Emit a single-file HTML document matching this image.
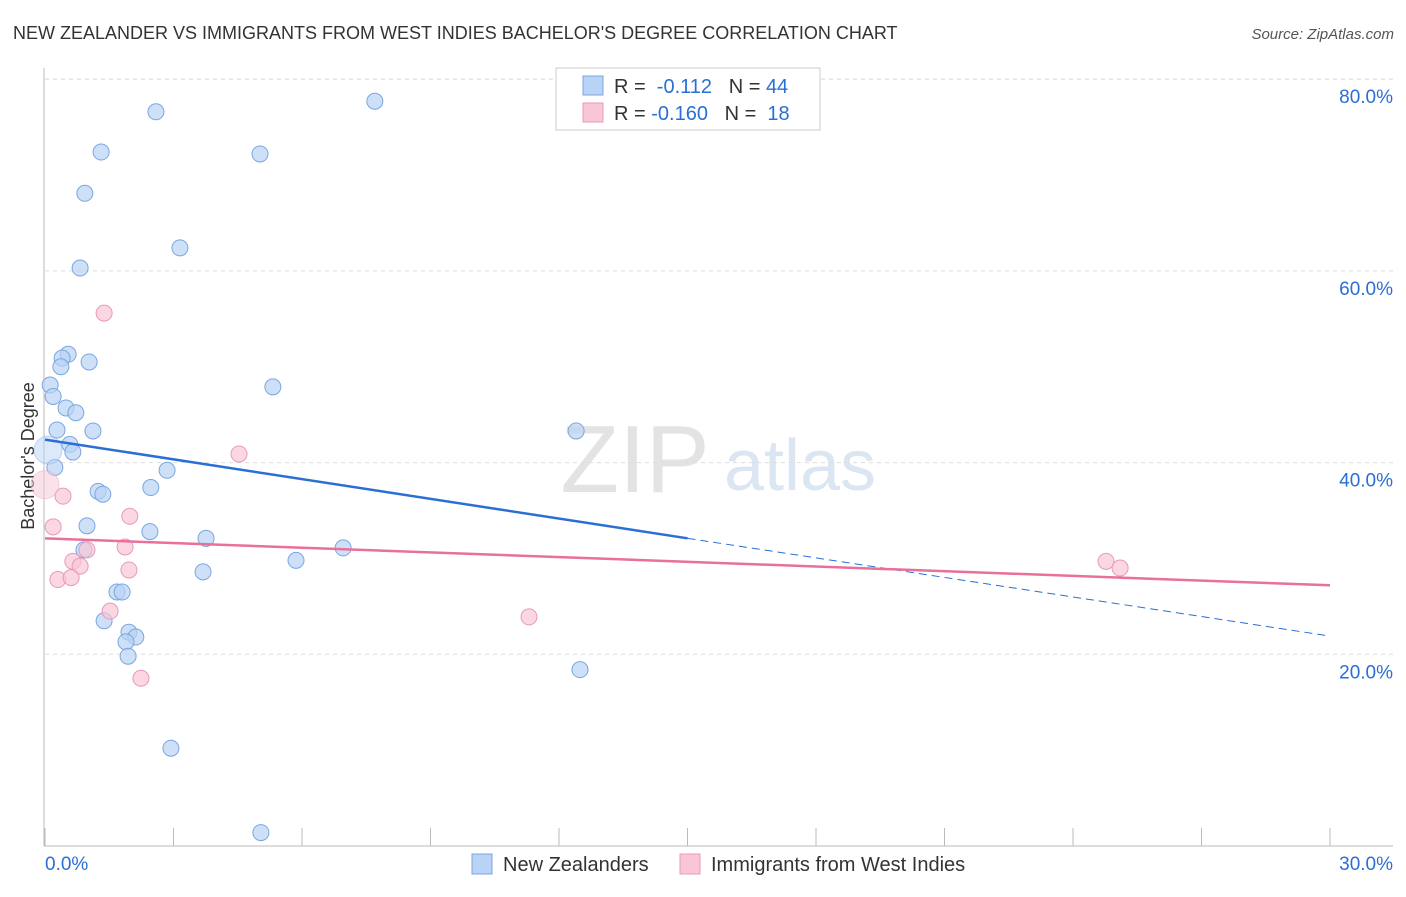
<!DOCTYPE html>
<html><head><meta charset="utf-8"><style>
body{margin:0;background:#fff;font-family:"Liberation Sans",sans-serif;}
#c{position:relative;width:1406px;height:892px;}
svg text{font-family:"Liberation Sans",sans-serif;}
</style></head><body>
<div id="c">
<svg id="s" width="1406" height="892">
<text x="13" y="39" font-size="18" fill="#333">NEW ZEALANDER VS IMMIGRANTS FROM WEST INDIES BACHELOR'S DEGREE CORRELATION CHART</text>
<text x="1394" y="39" font-size="15" fill="#555" text-anchor="end" font-style="italic">Source: ZipAtlas.com</text>
<text x="635" y="492" font-size="96" fill="#e3e3e3" font-family="Liberation Serif" text-anchor="middle">ZIP</text>
<text x="800" y="490" font-size="72" fill="#dce6f3" text-anchor="middle">atlas</text>
<text x="34" y="456" font-size="18" fill="#333" text-anchor="middle" transform="rotate(-90 34 456)">Bachelor's Degree</text>
<g id="grid"></g><g id="marks"></g>
<g>
<rect x="556" y="68" width="264" height="62" fill="#fff" stroke="#ccc"/>
<rect x="583" y="76" width="20" height="19" fill="#b8d3f5" stroke="#7aa6e0"/>
<rect x="583" y="103" width="20" height="19" fill="#f8c6d6" stroke="#e89ab4"/>
<text x="614" y="93" font-size="20" fill="#333">R = <tspan fill="#2a6fd4">&#160;-0.112</tspan>&#160;&#160;&#160;N = <tspan fill="#2a6fd4">44</tspan></text>
<text x="614" y="120" font-size="20" fill="#333">R = <tspan fill="#2a6fd4">-0.160</tspan>&#160;&#160;&#160;N = <tspan fill="#2a6fd4">&#160;18</tspan></text>
</g>
<g>
<rect x="472" y="854" width="20" height="20" fill="#b8d3f5" stroke="#7aa6e0"/>
<text x="503" y="871" font-size="20" fill="#333">New Zealanders</text>
<rect x="680" y="854" width="20" height="20" fill="#f8c6d6" stroke="#e89ab4"/>
<text x="711" y="871" font-size="20" fill="#333">Immigrants from West Indies</text>
</g>
</svg></div>
<script>
const blueX=[2.59,7.70,1.31,5.02,0.93,3.15,0.82,0.54,0.40,0.37,1.03,0.12,0.19,5.32,0.49,0.72,0.28,1.12,0.58,0.65,12.40,0.23,2.85,2.47,1.24,1.35,0.98,2.45,3.76,0.91,6.96,5.86,3.69,1.68,1.80,1.38,1.96,2.12,1.89,1.94,12.49,2.94,5.04,0.07];
const blueY=[76.6,77.7,72.4,72.2,68.1,62.4,60.3,51.3,50.9,50.0,50.5,48.1,46.9,47.9,45.7,45.2,43.4,43.3,41.9,41.1,43.3,39.5,39.2,37.4,37.0,36.7,33.4,32.8,32.1,30.9,31.1,29.8,28.6,26.5,26.5,23.5,22.3,21.8,21.3,19.8,18.4,10.2,1.4,41.3];
const pinkX=[1.38,4.53,0.42,0.0,0.19,1.98,0.98,0.65,0.82,1.87,0.30,0.61,1.96,1.52,11.30,2.24,24.77,25.10];
const pinkY=[55.6,40.9,36.5,37.7,33.3,34.4,30.9,29.7,29.2,31.2,27.8,28.0,28.8,24.5,23.9,17.5,29.7,29.0];
const blueTrend=[42.4,32.1,21.9];
const pinkTrend=[32.1,27.2];
const yTicks=[20,40,60,80];
const xTicks=[0,3,6,9,12,15,18,21,24,27,30];
const X=v=>45+v*(1285/30), Y=v=>846-v*9.585;
const NS='http://www.w3.org/2000/svg';
function mk(p,t,a){const e=document.createElementNS(NS,t);for(const k in a)e.setAttribute(k,a[k]);p.appendChild(e);return e;}
const gg=document.getElementById('grid'),mm=document.getElementById('marks');
yTicks.forEach(v=>{const l=mk(gg,'line',{x1:45,x2:1393,y1:Y(v),y2:Y(v),stroke:'#ddd','stroke-dasharray':'4 4'});


const t=mk(gg,'text',{x:1393,y:Y(v)+24,'font-size':19,fill:'#2a6fd4','text-anchor':'end'});t.textContent=v.toFixed(1)+'%';

});
const topLine=mk(gg,'line',{x1:45,x2:1393,y1:79,y2:79,stroke:'#ddd','stroke-dasharray':'4 4'});


mk(gg,'line',{x1:44,x2:44,y1:68,y2:846,stroke:'#bbb'});
const ax=mk(gg,'line',{x1:44,x2:1393,y1:846,y2:846,stroke:'#bbb'});


xTicks.forEach(v=>{const l=mk(gg,'line',{x1:X(v),x2:X(v),y1:828,y2:846,stroke:'#bbb'});

});
[[0,'0.0%',45,'start'],[30,'30.0%',1393,'end']].forEach(a=>{const t=mk(gg,'text',{x:a[2],y:870,'font-size':19,fill:'#2a6fd4','text-anchor':a[3]});t.textContent=a[1];

});
blueX.forEach((x,i)=>{const big=i==blueX.length-1;const c=mk(mm,'circle',{cx:X(x),cy:Y(blueY[i]),r:big?14:8,fill:'#b8d3f5','fill-opacity':big?0.5:0.7,stroke:'#7aa6e0','stroke-opacity':big?0.4:1});

});
pinkX.forEach((x,i)=>{const big=i==3;const c=mk(mm,'circle',{cx:X(x),cy:Y(pinkY[i]),r:big?14:8,fill:'#f8c6d6','fill-opacity':big?0.5:0.7,stroke:'#e89ab4','stroke-opacity':big?0.4:1});

});
const b1=mk(mm,'line',{x1:X(0),y1:Y(blueTrend[0]),x2:X(15),y2:Y(blueTrend[1]),stroke:'#2a6fd4','stroke-width':2.5});


const b2=mk(mm,'line',{x1:X(15),y1:Y(blueTrend[1]),x2:X(30),y2:Y(blueTrend[2]),stroke:'#2a6fd4','stroke-width':1,'stroke-dasharray':'8 5'});


const p1=mk(mm,'line',{x1:X(0),y1:Y(pinkTrend[0]),x2:X(30),y2:Y(pinkTrend[1]),stroke:'#e8709a','stroke-width':2.5});


</script></body></html>
